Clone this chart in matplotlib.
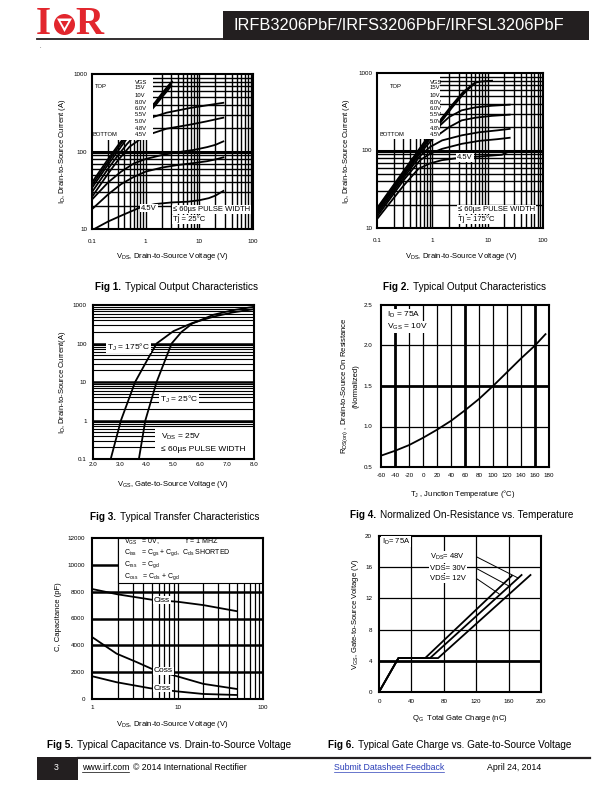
import numpy as np
import matplotlib
matplotlib.use('Agg')
import matplotlib.pyplot as plt
from matplotlib.patches import Rectangle, Circle, Polygon

plt.rcParams['font.family'] = ['Liberation Sans', 'DejaVu Sans']
plt.rcParams['mathtext.fontset'] = 'custom'
plt.rcParams['mathtext.rm'] = 'Liberation Sans'
plt.rcParams['mathtext.it'] = 'Liberation Sans:italic'
plt.rcParams['mathtext.bf'] = 'Liberation Sans:bold'
plt.rcParams['axes.unicode_minus'] = False

# ---------------- DATA ----------------
# Fig 1: Typical output characteristics, Tj = 25C  (VDS [V], ID [A])
f1_vgs_labels = ['15V', '10V', '8.0V', '6.0V', '5.5V', '5.0V', '4.8V', '4.5V']
f1_v_15 = [0.1, 0.2, 0.3, 0.45, 0.7, 1.0, 1.5, 2.0, 2.6, 3.1]
f1_i_15 = [40, 80, 118, 170, 250, 320, 430, 560, 700, 800]
f1_v_10 = [0.1, 0.2, 0.3, 0.45, 0.7, 1.0, 1.5, 2.0, 2.6, 3.0]
f1_i_10 = [37, 74, 110, 160, 235, 300, 410, 530, 660, 760]
f1_v_8 = [0.1, 0.2, 0.3, 0.45, 0.7, 1.0, 1.5, 2.0, 2.6, 3.0]
f1_i_8 = [34, 68, 100, 148, 215, 280, 390, 500, 620, 710]
f1_v_6 = [0.1, 0.2, 0.3, 0.45, 0.7, 1.0, 1.385, 2.46, 6.7, 13.7, 28]
f1_i_6 = [30, 60, 88, 125, 175, 225, 279, 317, 364, 394, 425]
f1_v_55 = [0.1, 0.2, 0.3, 0.5, 0.8, 1.385, 2.46, 6.7, 13.7, 27.9]
f1_i_55 = [26, 52, 76, 115, 145, 173, 197, 222, 245, 273]
f1_v_5 = [0.1, 0.2, 0.35, 0.6, 1.0, 2.0, 4.0, 8.0, 14, 20, 28]
f1_i_5 = [24, 40, 55, 70, 80, 90, 98, 105, 114, 122, 135]
f1_v_48 = [0.1, 0.2, 0.35, 0.6, 1.0, 2.0, 4.0, 8.0, 14, 20, 28]
f1_i_48 = [18, 28, 38, 47, 55, 62, 67, 71, 75, 79, 84]
f1_v_45 = [0.11, 0.2, 0.4, 0.8, 1.5, 3.0, 6.0, 10, 15, 20, 28]
f1_i_45 = [10, 12.5, 15.5, 19, 21, 22, 22.5, 23.5, 25, 27, 31]

# Fig 2: Typical output characteristics, Tj = 175C
f2_v_15 = [0.1, 0.3, 0.6, 1.0, 1.38, 2.25, 3.6, 5.9, 8.0, 12]
f2_i_15 = [18, 54, 108, 178, 245, 383, 569, 750, 780, 795]
f2_v_10 = [0.1, 0.3, 0.6, 1.0, 1.38, 2.25, 3.6, 5.9]
f2_i_10 = [17.5, 52, 104, 172, 235, 370, 550, 740]
f2_v_8 = [0.1, 0.3, 0.6, 1.0, 1.38, 2.25, 3.6, 5.5]
f2_i_8 = [17, 50, 100, 165, 225, 355, 530, 720]
f2_v_6 = [0.1, 0.3, 0.6, 1.0, 1.38, 2.0, 3.4, 6.0, 12, 25]
f2_i_6 = [16.5, 49, 96, 155, 211, 270, 330, 360, 378, 390]
f2_v_55 = [0.1, 0.3, 0.6, 1.0, 1.38, 2.0, 3.4, 6.0, 12, 25]
f2_i_55 = [16, 47, 92, 140, 165, 200, 245, 265, 280, 290]
f2_v_5 = [0.1, 0.3, 0.6, 0.91, 1.5, 3.4, 7.0, 15, 25]
f2_i_5 = [15, 44, 85, 111, 135, 157, 172, 182, 190]
f2_v_48 = [0.1, 0.3, 0.6, 0.91, 1.5, 3.4, 7.0, 15, 25]
f2_i_48 = [14, 41, 75, 91, 105, 122, 133, 140, 146]
f2_v_45 = [0.1, 0.3, 0.56, 0.9, 1.48, 2.95, 6.0, 12, 18, 25]
f2_i_45 = [13, 35, 58, 68, 75, 80, 83, 86, 88, 98]

# Fig 3: Transfer characteristics (VGS [V], ID [A])
f3_vgs_175 = [2.66, 3.04, 3.57, 4.0, 4.37, 5.0, 5.7, 6.5, 7.2, 8.0]
f3_id_175 = [0.1, 1, 10, 35, 100, 210, 340, 500, 640, 780]
f3_vgs_25 = [3.71, 3.95, 4.37, 4.93, 5.3, 5.7, 6.5, 7.2, 8.0]
f3_id_25 = [0.1, 1, 10, 100, 200, 330, 560, 730, 900]

# Fig 4: Normalized RDS(on) vs Tj
f4_tj = [-60, -40, -20, 0, 20, 40, 60, 80, 100, 120, 140, 160, 175]
f4_rds = [0.64, 0.70, 0.77, 0.86, 0.96, 1.07, 1.20, 1.34, 1.50, 1.67, 1.84, 2.00, 2.14]

# Fig 5: Capacitance vs VDS (VDS [V], C [pF])
f5_v_ciss = [1, 2, 5, 10, 20, 49]
f5_ciss = [8200, 7800, 7400, 7250, 7000, 6550]
f5_v_coss = [1, 1.94, 3.33, 5.2, 9.8, 20, 49]
f5_coss = [4620, 3380, 2750, 2200, 1700, 1130, 750]
f5_v_crss = [1, 1.94, 4.8, 9.8, 20, 49]
f5_crss = [1700, 1250, 800, 570, 375, 300]

# Fig 6: Gate charge (QG [nC], VGS [V])
f6_q_12 = [0, 24, 57, 164]
f6_v_12 = [0, 4.35, 4.35, 14.9]
f6_q_30 = [0, 24, 63, 176]
f6_v_30 = [0, 4.35, 4.35, 15.0]
f6_q_48 = [0, 24, 73, 187]
f6_v_48 = [0, 4.35, 4.35, 15.0]

# ---------------- FIGURE ----------------
W, H = 612, 792
fig = plt.figure(figsize=(6.12, 7.92), dpi=100)
renderer = fig.canvas.get_renderer()


def fx(x):
    return x / W


def fy(y):
    return 1 - y / H


def T(x, y, s, **kw):
    kw.setdefault('va', 'center')
    kw.setdefault('ha', 'left')
    kw.setdefault('color', 'black')
    return fig.text(fx(x), fy(y), s, **kw)


def AX(l, t, r, b):
    ax = fig.add_axes([fx(l), fy(b), (r - l) / W, (b - t) / H])
    for sp in ax.spines.values():
        sp.set_linewidth(1.5)
        sp.set_zorder(6)
    ax.tick_params(length=0, labelsize=4.5)
    return ax


def loggrid(lo, hi):
    vals = []
    d = lo
    while d < hi * 0.999:
        for m in range(1, 10):
            v = m * d
            if v > lo * 1.0001 and v < hi * 0.9999:
                vals.append(v)
        d *= 10
    return vals


WB = dict(fc='white', ec='none', pad=0.6)
CUR = dict(color='black', lw=1.3, zorder=2, solid_joinstyle='round')


def caption(x, y, a, b, size=7.2):
    t1 = T(x, y, a, fontsize=size, fontweight='bold')
    bb = t1.get_window_extent(renderer)
    T(bb.x1 + 4, y, b, fontsize=size)

# ---- Fig 1 ----
ax1 = AX(92, 74, 253, 229)
ax1.set_xscale('log'); ax1.set_yscale('log')
ax1.set_xlim(0.1, 100); ax1.set_ylim(10, 1000)
for v in loggrid(0.1, 100):
    ax1.axvline(v, color='k', lw=1.0, zorder=1)
for v in loggrid(10, 1000):
    ax1.axhline(v, color='k', lw=2.2 if abs(v - 100) < 1 else 1.0, zorder=1)
for xv, yv in [(f1_v_15, f1_i_15), (f1_v_10, f1_i_10), (f1_v_8, f1_i_8), (f1_v_6, f1_i_6),
               (f1_v_55, f1_i_55), (f1_v_5, f1_i_5), (f1_v_48, f1_i_48), (f1_v_45, f1_i_45)]:
    ax1.plot(xv, yv, **CUR)
ax1.add_patch(Rectangle((0.1, 140), 1.36 - 0.1, 1000 - 140, fc='white', ec='none', zorder=3))
ax1.set_xticks([0.1, 1, 10, 100]); ax1.set_xticklabels(['0.1', '1', '10', '100'])
ax1.set_yticks([10, 100, 1000]); ax1.set_yticklabels(['10', '100', '1000'])
ax1.minorticks_off()
ax1.tick_params(axis='x', pad=7); ax1.tick_params(axis='y', pad=3.5)

# ---- Fig 2 ----
ax2 = AX(377, 73, 543, 228)
ax2.set_xscale('log'); ax2.set_yscale('log')
ax2.set_xlim(0.1, 100); ax2.set_ylim(10, 1000)
for v in loggrid(0.1, 100):
    ax2.axvline(v, color='k', lw=1.0, zorder=1)
for v in loggrid(10, 1000):
    ax2.axhline(v, color='k', lw=2.2 if abs(v - 100) < 1 else 1.0, zorder=1)
for xv, yv in [(f2_v_15, f2_i_15), (f2_v_10, f2_i_10), (f2_v_8, f2_i_8), (f2_v_6, f2_i_6),
               (f2_v_55, f2_i_55), (f2_v_5, f2_i_5), (f2_v_48, f2_i_48), (f2_v_45, f2_i_45)]:
    ax2.plot(xv, yv, **CUR)
ax2.add_patch(Rectangle((0.1, 140), 1.38 - 0.1, 1000 - 140, fc='white', ec='none', zorder=3))
ax2.set_xticks([0.1, 1, 10, 100]); ax2.set_xticklabels(['0.1', '1', '10', '100'])
ax2.set_yticks([10, 100, 1000]); ax2.set_yticklabels(['10', '100', '1000'])
ax2.minorticks_off()
ax2.tick_params(axis='x', pad=7); ax2.tick_params(axis='y', pad=3.5)

leg_y = [87.3, 95.5, 102, 108, 114.7, 121.5, 128, 134]
for (lx, tx, bx) in [(135, 95, 93), (430, 390, 380)]:
    T(lx, 82, 'VGS', fontsize=4.2)
    for lab, yy in zip(f1_vgs_labels, leg_y):
        T(lx, yy, lab, fontsize=4.2)
    T(tx, 87, 'TOP', fontsize=4.2)
    T(bx, 134, 'BOTTOM', fontsize=4.2)

T(141, 208, '4.5V', fontsize=5.5, bbox=WB)
T(173, 209.5, '≤ 60µs PULSE WIDTH', fontsize=5.5, bbox=WB)
T(173, 219.5, 'Tj = 25°C', fontsize=5.5, bbox=WB)
T(457, 157.5, '4.5V', fontsize=5.5, bbox=WB)
T(458, 209.5, '≤ 60µs PULSE WIDTH', fontsize=5.5, bbox=WB)
T(458, 219.5, 'Tj = 175°C', fontsize=5.5, bbox=WB)
for cx in (172, 461):
    T(cx, 256, r'$\mathregular{V_{DS}}$, Drain-to-Source Voltage (V)', fontsize=5.5, ha='center')
for lx in (63, 347):
    T(lx, 151, r'$\mathregular{I_D}$, Drain-to-Source Current (A)', fontsize=5.5, ha='center', rotation=90)
caption(95, 287, 'Fig 1.', 'Typical Output Characteristics')
caption(383, 287, 'Fig 2.', 'Typical Output Characteristics')

# ---- Fig 3 ----
ax3 = AX(93, 305, 254, 459)
ax3.set_yscale('log')
ax3.set_xlim(2, 8); ax3.set_ylim(0.1, 1000)
for v in loggrid(0.1, 1000):
    dec = abs(np.log10(v) - round(np.log10(v))) < 1e-6
    ax3.axhline(v, color='k', lw=1.8 if dec else 0.8, zorder=1)
ax3.plot(f3_vgs_175, f3_id_175, **CUR)
ax3.plot(f3_vgs_25, f3_id_25, **CUR)
ax3.add_patch(Rectangle((4.31, 0.1), 8 - 4.31, 0.63 - 0.1, fc='white', ec='none', zorder=3))
ax3.set_xticks([2, 3, 4, 5, 6, 7, 8]); ax3.set_xticklabels(['2.0', '3.0', '4.0', '5.0', '6.0', '7.0', '8.0'])
ax3.set_yticks([0.1, 1, 10, 100, 1000]); ax3.set_yticklabels(['0.1', '1', '10', '100', '1000'])
ax3.minorticks_off()
ax3.tick_params(axis='x', pad=2.5); ax3.tick_params(axis='y', pad=4.5)
T(107, 347, r'$\mathregular{T_J}$ = 175°C', fontsize=6, bbox=WB)
T(160, 399, r'$\mathregular{T_J}$ = 25°C', fontsize=6, bbox=WB)
T(161, 437, r'$\mathregular{V_{DS}}$ = 25V', fontsize=6)
T(161, 449.5, '≤ 60µs PULSE WIDTH', fontsize=6)
T(173, 484, r'$\mathregular{V_{GS}}$, Gate-to-Source Voltage (V)', fontsize=5.5, ha='center')
T(63, 382, r'$\mathregular{I_D}$, Drain-to-Source Current(A)', fontsize=5.5, ha='center', rotation=90)
caption(90, 517, 'Fig 3.', 'Typical Transfer Characteristics')

# ---- Fig 4 ----
ax4 = AX(381, 305, 549, 467)
ax4.set_xlim(-60, 180); ax4.set_ylim(0.5, 2.5)
for v in range(-40, 180, 20):
    ax4.axvline(v, color='k', lw=2.0 if v in (-40, 60, 160) else 0.9, zorder=1)
for v in (1.0, 1.5, 2.0):
    ax4.axhline(v, color='k', lw=2.0 if v == 1.5 else 0.9, zorder=1)
ax4.plot(f4_tj, f4_rds, **CUR)
ax4.set_xticks(list(range(-60, 181, 20)))
ax4.set_yticks([0.5, 1.0, 1.5, 2.0, 2.5]); ax4.set_yticklabels(['0.5', '1.0', '1.5', '2.0', '2.5'])
ax4.tick_params(axis='x', pad=4); ax4.tick_params(axis='y', pad=6)
T(387, 315, r'$\mathregular{I_D}$ = 75A', fontsize=6, bbox=WB)
T(387, 327, r'$\mathregular{V_{GS}}$ = 10V', fontsize=6, bbox=WB)
T(463, 494, r'$\mathregular{T_J}$ , Junction Temperature (°C)', fontsize=5.5, ha='center')
T(345, 386, r'$\mathregular{R_{DS(on)}}$ , Drain-to-Source On Resistance', fontsize=5.5, ha='center', rotation=90)
T(356, 386, '(Normalized)', fontsize=5.5, ha='center', rotation=90)
caption(350, 515, 'Fig 4.', 'Normalized On-Resistance vs. Temperature')

# ---- Fig 5 ----
ax5 = AX(92, 538, 263, 699)
ax5.set_xscale('log')
ax5.set_xlim(1, 100); ax5.set_ylim(0, 12000)
for v in loggrid(1, 100):
    ax5.axvline(v, color='k', lw=0.9, zorder=1)
for v in (2000, 4000, 6000, 8000, 10000):
    ax5.axhline(v, color='k', lw=1.8, zorder=1)
ax5.plot(f5_v_ciss, f5_ciss, **CUR)
ax5.plot(f5_v_coss, f5_coss, **CUR)
ax5.plot(f5_v_crss, f5_crss, **CUR)
ax5.add_patch(Rectangle((2.0, 8650), 98, 12000 - 8650, fc='white', ec='black', lw=0.8, zorder=3))
ax5.set_xticks([1, 10, 100]); ax5.set_xticklabels(['1', '10', '100'])
ax5.set_yticks(list(range(0, 12001, 2000)))
ax5.minorticks_off()
ax5.tick_params(axis='x', pad=4.5); ax5.tick_params(axis='y', pad=5)
T(124, 541.5, r'$\mathregular{V_{GS}}$   = 0V,', fontsize=5)
T(186, 541.5, 'f = 1 MHZ', fontsize=5)
T(124, 553, r'$\mathregular{C_{iss}}$   = $\mathregular{C_{gs}}$ + $\mathregular{C_{gd}}$,  $\mathregular{C_{ds}}$ SHORTED', fontsize=5)
T(124, 565, r'$\mathregular{C_{rss}}$   = $\mathregular{C_{gd}}$', fontsize=5)
T(124, 577, r'$\mathregular{C_{oss}}$   = $\mathregular{C_{ds}}$ + $\mathregular{C_{gd}}$', fontsize=5)
T(154, 600, 'Ciss', fontsize=6, bbox=WB)
T(154, 671, 'Coss', fontsize=6, bbox=WB)
T(154, 688, 'Crss', fontsize=6, bbox=WB)
T(172, 724, r'$\mathregular{V_{DS}}$, Drain-to-Source Voltage (V)', fontsize=5.5, ha='center')
T(58, 617, 'C, Capacitance (pF)', fontsize=5.5, ha='center', rotation=90)
caption(47, 745, 'Fig 5.', 'Typical Capacitance vs. Drain-to-Source Voltage')

# ---- Fig 6 ----
ax6 = AX(379, 536, 541, 692)
ax6.set_xlim(0, 200); ax6.set_ylim(0, 20)
for v in (40, 80, 120, 160):
    ax6.axvline(v, color='k', lw=0.9, zorder=1)
for v in (4, 8, 12, 16):
    ax6.axhline(v, color='k', lw=2.0 if v == 4 else 0.9, zorder=1)
ax6.plot(f6_q_12, f6_v_12, **CUR)
ax6.plot(f6_q_30, f6_v_30, **CUR)
ax6.plot(f6_q_48, f6_v_48, **CUR)
ax6.set_xticks([0, 40, 80, 120, 160, 200])
ax6.set_yticks([0, 4, 8, 12, 16, 20])
ax6.tick_params(axis='x', pad=5); ax6.tick_params(axis='y', pad=5)
for (x0, y0, x1, y1) in [(121, 17.3, 172, 14.6), (121, 15.8, 162, 13.5), (121, 14.5, 148, 12.6)]:
    ax6.plot([x0, x1], [y0, y1], color='k', lw=0.7, zorder=2)
T(382, 541.5, r'$\mathregular{I_D}$= 75A', fontsize=5.5, bbox=WB)
T(430, 557, r'$\mathregular{V_{DS}}$= 48V', fontsize=5.5, bbox=WB)
T(430, 568.5, 'VDS= 30V', fontsize=5.5, bbox=WB)
T(430, 578.5, 'VDS= 12V', fontsize=5.5, bbox=WB)
T(460, 719, r'$\mathregular{Q_G}$  Total Gate Charge (nC)', fontsize=5.5, ha='center')
T(355, 614, r'$\mathregular{V_{GS}}$, Gate-to-Source Voltage (V)', fontsize=5.5, ha='center', rotation=90)
caption(328, 745, 'Fig 6.', 'Typical Gate Charge vs. Gate-to-Source Voltage')

# ---------------- HEADER / FOOTER ----------------
bg = fig.add_axes([0, 0, 1, 1], zorder=-1)
bg.set_xlim(0, W); bg.set_ylim(H, 0); bg.axis('off')
red = '#e2262d'
dark = '#231f20'
bg.add_patch(Rectangle((223, 11), 366, 29, fc=dark, ec='none'))
T(234, 25.5, 'IRFB3206PbF/IRFS3206PbF/IRFSL3206PbF', fontsize=11.8, color='white')
bg.plot([37, 223], [39, 39], color=dark, lw=1.3)
T(36, 24.5, 'I', fontsize=28, color=red, fontfamily='Liberation Serif', fontweight='bold')
bg.add_patch(Circle((64.5, 24.5), 10.5, fc=red, ec='none'))
bg.add_patch(Polygon([[57, 18.5], [72, 18.5], [64.5, 32]], closed=True, fc='white', ec='none'))
bg.add_patch(Polygon([[60.5, 21], [68.5, 21], [64.5, 28]], closed=True, fc=red, ec='none'))
T(75, 24.5, 'R', fontsize=28, color=red, fontfamily='Liberation Serif', fontweight='bold')
T(40, 46, '.', fontsize=4)

bg.plot([78, 590], [758, 758], color=dark, lw=1.6)
bg.add_patch(Rectangle((37, 757), 41, 23, fc=dark, ec='none'))
T(56, 768, '3', fontsize=6.3, color='white', ha='center')
t = T(82, 768, 'www.irf.com', fontsize=6.3)
bb = t.get_window_extent(renderer)
bg.plot([bb.x0, bb.x1], [772.3, 772.3], color='black', lw=0.5)
T(bb.x1 + 4, 768, '© 2014 International Rectifier', fontsize=6.3)
t = T(334, 768, 'Submit Datasheet Feedback', fontsize=6.3, color='#2b3fb8')
bb = t.get_window_extent(renderer)
bg.plot([bb.x0, bb.x1], [772.3, 772.3], color='#2b3fb8', lw=0.5)
T(487, 768, 'April 24, 2014', fontsize=6.3)

fig.savefig('out.png', dpi=100)
